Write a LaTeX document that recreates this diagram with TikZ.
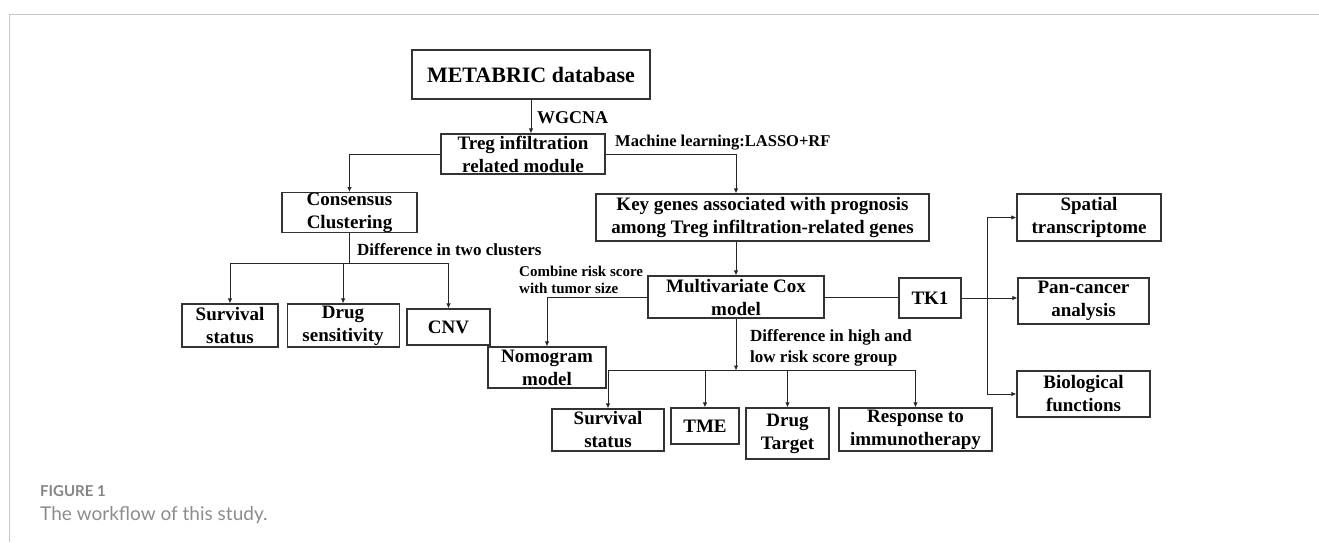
\documentclass[tikz,border=0pt]{standalone}
\usepackage{fontspec}
\setmainfont{Liberation Serif}
\newfontfamily\capfont{Lato}
\usepackage{tikz}
\usetikzlibrary{arrows.meta, positioning, calc}

\begin{document}
\begin{tikzpicture}[
    x=1pt, y=-1pt,
    box/.style={draw=black!80, line width=1.1pt, align=center, inner sep=0pt,
      font=\bfseries\fontsize{19}{23}\selectfont},
    lbl/.style={anchor=west, align=left, inner sep=0pt,
      font=\bfseries\fontsize{17}{21}\selectfont},
    link/.style={draw=black!85, line width=1pt},
    arr/.style={link, -{Latex[length=5pt,width=4.5pt]}}
  ]
  \useasboundingbox (0,0) rectangle (1319,542);
  % page frame
  \draw[black!22, line width=1pt] (9,542) -- (9,14) -- (1319,14);

  \node[box, minimum width=238pt, minimum height=49pt,
    font=\bfseries\fontsize{22}{26}\selectfont] (meta) at (531,74.5) {METABRIC database};
  \node[box, minimum width=164pt, minimum height=40pt] (treg) at (523,154) {Treg infiltration\\related module};
  \node[box, minimum width=135pt, minimum height=39pt] (cons) at (349.5,212.5) {Consensus\\Clustering};
  \node[box, minimum width=333pt, minimum height=47pt] (key) at (762.5,217.5)
    {Key genes associated with prognosis\\among Treg infiltration-related genes};

  \node[box, minimum width=96pt, minimum height=43pt] (surv1) at (230,325.5) {Survival\\status};
  \node[box, minimum width=112pt, minimum height=43pt, right=8pt of surv1] (drugs) {Drug\\sensitivity};
  \node[box, minimum width=83pt, minimum height=36pt] (cnv) at (448.5,327) {CNV};
  \node[box, minimum width=118pt, minimum height=41pt] (nomo) at (547,367.5) {Nomogram\\model};

  \node[box, minimum width=176pt, minimum height=42pt] (cox) at (736,297) {Multivariate Cox\\model};
  \node[box, minimum width=62pt, minimum height=40pt] (tk) at (930,298) {TK1};

  \node[box, minimum width=144pt, minimum height=47pt] (spat) at (1089,217.5) {Spatial\\transcriptome};
  \node[box, minimum width=131pt, minimum height=46pt] (pan) at (1083.5,301) {Pan-cancer\\analysis};
  \node[box, minimum width=133pt, minimum height=46pt] (bio) at (1083.5,394) {Biological\\functions};

  \node[box, minimum width=112pt, minimum height=42pt] (surv2) at (608,430) {Survival\\status};
  \node[box, minimum width=68pt, minimum height=36pt] (tme) at (705,426) {TME};
  \node[box, minimum width=83pt, minimum height=51pt] (drugt) at (787.5,433.5) {Drug\\Target};
  \node[box, minimum width=153pt, minimum height=43pt] (resp) at (915.5,429.5) {Response to\\immunotherapy};

  % labels
  \node[lbl, font=\bfseries\fontsize{18}{21}\selectfont] (wgcna) at (537,118) {WGCNA};
  \node[lbl, font=\bfseries\fontsize{16.5}{20}\selectfont] (ml) at (615,143) {Machine learning:LASSO+RF};
  \node[lbl] (diff2) at (357,250) {Difference in two clusters};
  \node[lbl, font=\bfseries\fontsize{15}{17}\selectfont] (comb) at (519,279.5) {Combine risk score\\with tumor size};
  \node[lbl] (diffhl) at (750,347.5) {Difference in high and\\low risk score group};

  % connectors
  \draw[arr] (meta.south) -- (meta.south |- treg.north);
  \draw[arr] (treg.west) -| (cons.north);
  \draw[arr] (treg.east) -| (key.north -| cox.north);
  \draw[arr] (key.south -| cox.north) -- (cox.north);

  \coordinate (cbus) at ($(cons.south)+(0,31)$);
  \draw[link] (cons.south) -- (cbus);
  \draw[link] (cbus -| surv1.north) -- (cbus -| cnv.north);
  \foreach \n in {surv1, drugs, cnv}
    \draw[arr] (cbus -| \n.north) -- (\n.north);

  \draw[arr] (cox.west) -| (nomo.north);
  \draw[link] (cox.east) -- (cox.east -| tk.west);
  \draw[arr] (tk.east) -- (tk.east -| pan.west);
  \coordinate (tkj) at ($(tk.east)+(26,0)$);
  \draw[arr] (tkj) |- (spat.west);
  \draw[arr] (tkj) |- (bio.west);

  \coordinate (rbus) at ($(cox.south)+(0,52)$);
  \draw[arr] (cox.south) -- (rbus);
  \draw[link] (rbus -| surv2.north) -- (rbus -| resp.north);
  \foreach \n in {surv2, tme, drugt, resp}
    \draw[arr] (rbus -| \n.north) -- (\n.north);

  % caption
  \node[anchor=base west, inner sep=0pt, text=black!48,
    font=\capfont\bfseries\fontsize{15}{18}\selectfont] (fig) at (40,496) {FIGURE 1};
  \node[anchor=base west, inner sep=0pt, text=black!45,
    font=\capfont\fontsize{19}{23}\selectfont] (cap) at (40,520) {The workflow of this study.};
\end{tikzpicture}
\end{document}
